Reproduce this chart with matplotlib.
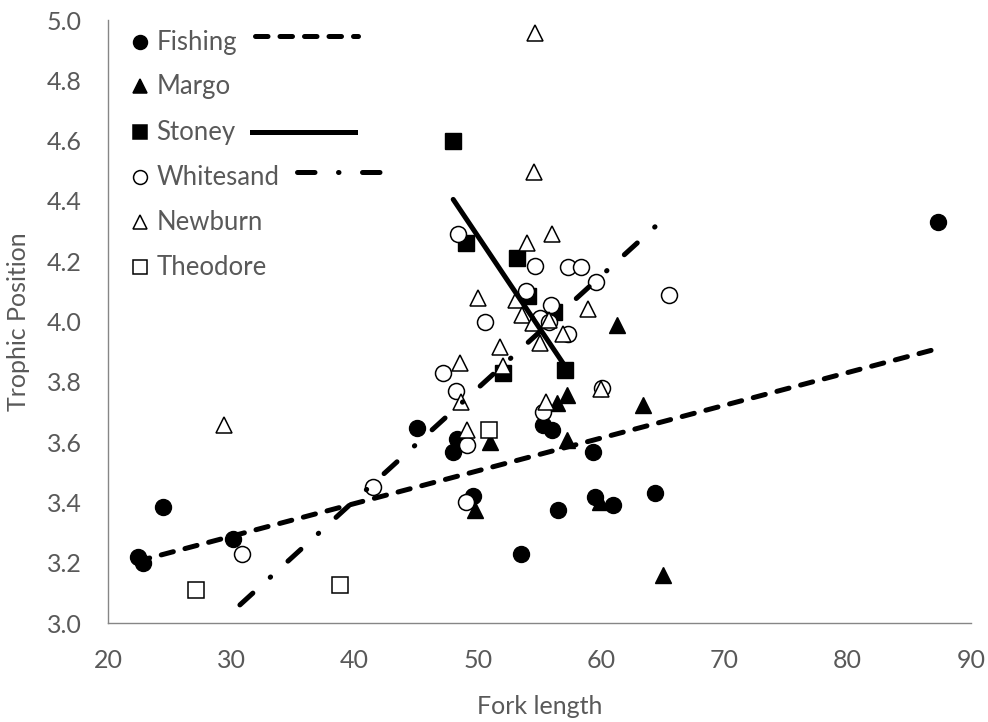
import numpy as np
import matplotlib
matplotlib.use("Agg")
from matplotlib import pyplot as plt

plt.rcParams['font.family'] = ['Lato', 'DejaVu Sans']

# data: fork length, trophic position per lake
fishing_x = [22.4, 22.8, 24.5, 30.1, 45.1, 48.0, 48.3, 49.6, 53.5, 55.3, 56.0, 56.5, 59.3, 59.5, 61.0, 64.4, 87.3]
fishing_y = [3.22, 3.20, 3.385, 3.28, 3.647, 3.567, 3.61, 3.42, 3.23, 3.657, 3.64, 3.375, 3.567, 3.418, 3.39, 3.43, 4.33]

margo_x = [61.3, 63.4, 57.2, 56.4, 57.2, 51.0, 49.8, 65.0, 59.9]
margo_y = [3.99, 3.723, 3.757, 3.73, 3.607, 3.60, 3.375, 3.16, 3.40]

stoney_x = [48.0, 49.0, 53.2, 54.1, 56.2, 57.1, 52.0]
stoney_y = [4.60, 4.26, 4.21, 4.085, 4.03, 3.84, 3.83]

whitesand_x = [48.4, 54.6, 57.3, 58.4, 59.6, 65.5, 53.9, 55.9, 55.0, 55.8,
               57.3, 50.6, 47.2, 48.2, 60.1, 55.3, 49.1, 49.0, 41.5, 30.9]
whitesand_y = [4.29, 4.185, 4.18, 4.18, 4.13, 4.088, 4.10, 4.055, 4.01, 4.00,
               3.96, 4.0, 3.83, 3.77, 3.78, 3.70, 3.59, 3.40, 3.45, 3.23]

newburn_x = [54.6, 54.55, 29.4, 56.0, 54.0, 50.0, 53.1, 53.6, 54.5, 55.8,
             58.9, 56.9, 55.0, 51.8, 48.55, 52.0, 48.6, 60.0, 55.5, 49.1]
newburn_y = [4.957, 4.496, 3.657, 4.29, 4.26, 4.078, 4.07, 4.02, 3.995, 4.005,
             4.04, 3.96, 3.93, 3.915, 3.862, 3.853, 3.733, 3.776, 3.733, 3.64]

theodore_x = [27.1, 38.8, 50.9]
theodore_y = [3.11, 3.126, 3.64]

# trendline ends (start, end)
fishing_trend_x = [22.4, 87.3]
fishing_trend_y = [3.205, 3.91]
stoney_trend_x = [48.0, 57.1]
stoney_trend_y = [4.405, 3.85]
whitesand_trend_x = [30.7, 65.6]
whitesand_trend_y = [3.06, 4.36]

grey = '#595959'

fig = plt.figure(figsize=(9.88, 7.22), dpi=100)
ax = fig.add_axes([108/988, 1-623/722, 863/988, 603/722])

ms = 11.5
ax.plot(fishing_x, fishing_y, 'o', ms=ms, color='black', zorder=3)
ax.plot(margo_x, margo_y, '^', ms=11, color='black', zorder=4)
ax.plot(stoney_x, stoney_y, 's', ms=11, color='black', zorder=5)
ax.plot(whitesand_x, whitesand_y, 'o', ms=ms, mfc='white', mec='black', mew=1.1, zorder=6)
ax.plot(newburn_x, newburn_y, '^', ms=11, mfc='white', mec='black', mew=1.1, zorder=7)
ax.plot(theodore_x, theodore_y, 's', ms=11, mfc='white', mec='black', mew=1.1, zorder=8)

ax.plot(fishing_trend_x, fishing_trend_y, color='black', lw=3.6, zorder=10,
        dashes=(2.5, 2.4), dash_capstyle='round')
ax.plot(stoney_trend_x, stoney_trend_y, color='black', lw=3.6, zorder=10,
        solid_capstyle='round')
ax.plot(whitesand_trend_x, whitesand_trend_y, color='black', lw=3.6, zorder=10,
        dashes=(3.5, 4.7, 0.1, 4.7), dash_capstyle='round')

ax.set_xlim(20, 90)
ax.set_ylim(3.0, 5.0)
ax.set_xticks(range(20, 91, 10))
ax.set_yticks(np.arange(3.0, 5.01, 0.2))
ax.set_yticklabels(['%.1f' % v for v in np.arange(3.0, 5.01, 0.2)])
ax.tick_params(length=0, labelsize=18, colors=grey)
ax.tick_params(axis='y', pad=19)
ax.tick_params(axis='x', pad=19)
for s in ['top', 'right']:
    ax.spines[s].set_visible(False)
for s in ['left', 'bottom']:
    ax.spines[s].set_color('#868686')
    ax.spines[s].set_linewidth(1.0)

ax.set_xlabel('Fork length', fontsize=18, color=grey, labelpad=16)
ax.set_ylabel('Trophic Position', fontsize=18, color=grey, labelpad=12)

# legend drawn by hand, Excel style
names = ['Fishing', 'Margo', 'Stoney', 'Whitesand', 'Newburn', 'Theodore']
marks = ['o', '^', 's', 'o', '^', 's']
fills = ['black', 'black', 'black', 'white', 'white', 'white']
rows = [0.963, 0.890, 0.814, 0.739, 0.665, 0.590]
for name, m, f, ry in zip(names, marks, fills, rows):
    ax.plot([0.037], [ry], m, ms=10, mfc=f, mec='black', mew=1.1,
            transform=ax.transAxes, clip_on=False, zorder=12)
    ax.text(0.056, ry, name, fontsize=18.5, color=grey, va='center', ha='left',
            transform=ax.transAxes)
ax.plot([0.170, 0.290], [0.973, 0.973], color='black', lw=3.6, dashes=(2.5, 2.4),
        dash_capstyle='round', transform=ax.transAxes, clip_on=False)
ax.plot([0.167, 0.286], [0.814, 0.814], color='black', lw=3.6,
        transform=ax.transAxes, clip_on=False)
ax.plot([0.219, 0.318], [0.748, 0.748], color='black', lw=3.6,
        dashes=(3.5, 4.7, 0.1, 4.7), dash_capstyle='round',
        transform=ax.transAxes, clip_on=False)

fig.savefig('out.png', dpi=100)
